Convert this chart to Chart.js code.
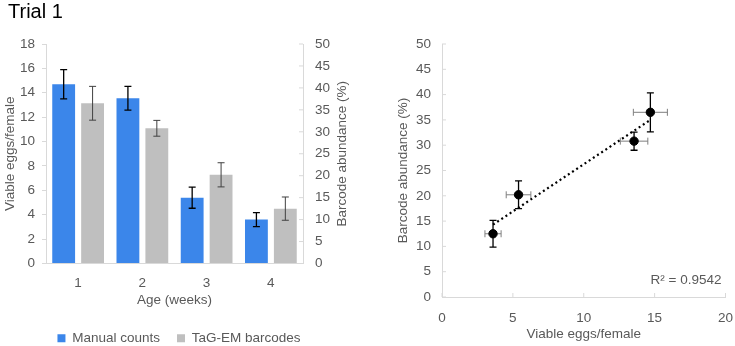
<!DOCTYPE html>
<html>
<head>
<meta charset="utf-8">
<script src="https://cdn.jsdelivr.net/npm/chart.js@4.4.1/dist/chart.umd.min.js"></script>
<style>
  body { margin: 0; background: #fff; width: 735px; height: 346px; position: relative; overflow: hidden; font-family: "Liberation Sans", Arial, sans-serif; }
  #title { position: absolute; left: 8px; top: 0; font-size: 20px; color: #000; }
  #barChart { position: absolute; left: 0; top: 0; }
  #scatChart { position: absolute; left: 370px; top: 0; }
</style>
</head>
<body>
<canvas id="barChart" width="358" height="346"></canvas>
<canvas id="scatChart" width="365" height="346"></canvas>
<div id="title">Trial 1</div>
<script>
// values
const weeks = ['1', '2', '3', '4'];
const manualCounts = [14.7, 13.55, 5.4, 3.6];
const manualErr = [1.2, 0.97, 0.87, 0.57];
const barcodeAbund = [36.5, 30.8, 20.2, 12.5];
const barcodeErr = [3.85, 1.8, 2.75, 2.65];
const trendX = [3.6, 14.7];
const trendY = [14.3, 35.0];
const rSquared = 'R² = 0.9542';

const axisGrey = '#d9d9d9';
const textGrey = '#595959';
const fontStr = '13.5px "Liberation Sans", Arial, sans-serif';

Chart.defaults.font.family = '"Liberation Sans", Arial, sans-serif';
Chart.defaults.font.size = 13.5;
Chart.defaults.color = textGrey;
Chart.defaults.animation = false;

// small tick marks drawn inside the plot (like the original)
function innerTicks(ctx, scale, len) {
  ctx.save();
  ctx.strokeStyle = axisGrey;
  ctx.lineWidth = 1;
  scale.ticks.forEach((t) => {
    const p = scale.getPixelForValue(t.value);
    ctx.beginPath();
    if (scale.isHorizontal()) {
      ctx.moveTo(p, scale.top);
      ctx.lineTo(p, scale.top - len);
    } else if (scale.position === 'left') {
      ctx.moveTo(scale.right, p);
      ctx.lineTo(scale.right + len, p);
    } else {
      ctx.moveTo(scale.left, p);
      ctx.lineTo(scale.left - len, p);
    }
    ctx.stroke();
  });
  ctx.restore();
}

function vBar(ctx, x, y1, y2, cap) {
  ctx.beginPath();
  ctx.moveTo(x, y1); ctx.lineTo(x, y2);
  ctx.moveTo(x - cap, y1); ctx.lineTo(x + cap, y1);
  ctx.moveTo(x - cap, y2); ctx.lineTo(x + cap, y2);
  ctx.stroke();
}
function hBar(ctx, y, x1, x2, cap) {
  ctx.beginPath();
  ctx.moveTo(x1, y); ctx.lineTo(x2, y);
  ctx.moveTo(x1, y - cap); ctx.lineTo(x1, y + cap);
  ctx.moveTo(x2, y - cap); ctx.lineTo(x2, y + cap);
  ctx.stroke();
}

const barErrors = {
  id: 'barErrors',
  afterDatasetsDraw(chart) {
    const ctx = chart.ctx;
    const a = chart.chartArea;
    innerTicks(ctx, chart.scales.y1, 4);
    const errs = [manualErr, barcodeErr];
    const cols = ['#000', '#404040'];
    chart.data.datasets.forEach((ds, d) => {
      const yScale = chart.scales[ds.yAxisID];
      ctx.save();
      ctx.strokeStyle = cols[d];
      ctx.lineWidth = d === 0 ? 1.3 : 1;
      chart.getDatasetMeta(d).data.forEach((el, i) => {
        const v = ds.data[i];
        vBar(ctx, el.x, yScale.getPixelForValue(v + errs[d][i]), yScale.getPixelForValue(v - errs[d][i]), 3.5);
      });
      ctx.restore();
    });
    // right axis title reads bottom-to-top in the original
    ctx.save();
    ctx.translate(342, (a.top + a.bottom) / 2);
    ctx.rotate(-Math.PI / 2);
    ctx.fillStyle = textGrey;
    ctx.font = fontStr;
    ctx.textAlign = 'center';
    ctx.textBaseline = 'middle';
    ctx.fillText('Barcode abundance (%)', 0, 0);
    ctx.restore();
  }
};

const barChart = new Chart(document.getElementById('barChart'), {
  type: 'bar',
  data: {
    labels: weeks,
    datasets: [{
      label: 'Manual counts',
      data: manualCounts,
      backgroundColor: '#3b86ea',
      yAxisID: 'y',
      categoryPercentage: 0.9,
      barPercentage: 0.79
    }, {
      label: 'TaG-EM barcodes',
      data: barcodeAbund,
      backgroundColor: '#bfbfbf',
      yAxisID: 'y1',
      categoryPercentage: 0.9,
      barPercentage: 0.79
    }]
  },
  options: {
    responsive: false,
    layout: { padding: { top: 44, left: 0, right: 0, bottom: -9 } },
    plugins: {
      tooltip: { enabled: false },
      legend: {
        position: 'bottom',
        labels: { boxWidth: 8, boxHeight: 8, padding: 17, color: textGrey }
      }
    },
    scales: {
      x: {
        grid: { display: false, drawTicks: false },
        border: { color: axisGrey },
        ticks: { padding: 12 },
        title: { display: true, text: 'Age (weeks)', padding: { top: 0, bottom: 6 } },
        afterFit(s) { s.height = 51; }
      },
      y: {
        position: 'left',
        min: 0, max: 18,
        ticks: { stepSize: 2, padding: 7 },
        grid: { drawOnChartArea: false, tickLength: 4, color: axisGrey },
        border: { color: axisGrey },
        title: { display: true, text: 'Viable eggs/female', padding: { top: 2, bottom: 2 } },
        afterFit(s) { s.width = 46; }
      },
      y1: {
        position: 'right',
        min: 0, max: 50,
        ticks: { stepSize: 5, padding: 12 },
        grid: { drawOnChartArea: false, drawTicks: false },
        border: { color: axisGrey },
        afterFit(s) { s.width = 55; }
      }
    }
  },
  plugins: [barErrors]
});

const scatExtras = {
  id: 'scatExtras',
  beforeDatasetsDraw(chart) {
    const ctx = chart.ctx;
    const xs = chart.scales.x, ys = chart.scales.y;
    innerTicks(ctx, xs, 4);
    innerTicks(ctx, ys, 4);
    manualCounts.forEach((x, i) => {
      const y = barcodeAbund[i];
      ctx.save();
      ctx.lineWidth = 1;
      ctx.strokeStyle = '#7f7f7f';
      hBar(ctx, ys.getPixelForValue(y), xs.getPixelForValue(x - manualErr[i]), xs.getPixelForValue(x + manualErr[i]), 3.5);
      ctx.strokeStyle = '#000';
      ctx.lineWidth = 1.3;
      vBar(ctx, xs.getPixelForValue(x), ys.getPixelForValue(y + barcodeErr[i]), ys.getPixelForValue(y - barcodeErr[i]), 3.5);
      ctx.restore();
    });
  },
  afterDatasetsDraw(chart) {
    const ctx = chart.ctx;
    const a = chart.chartArea;
    ctx.save();
    ctx.fillStyle = textGrey;
    ctx.font = fontStr;
    ctx.textAlign = 'right';
    ctx.textBaseline = 'middle';
    ctx.fillText(rSquared, a.right - 4, a.bottom - 17);
    ctx.restore();
  }
};

const scatChart = new Chart(document.getElementById('scatChart'), {
  type: 'scatter',
  data: {
    datasets: [{
      type: 'line',
      data: trendX.map((x, i) => ({ x: x, y: trendY[i] })),
      borderColor: '#000',
      borderWidth: 2.2,
      borderDash: [2, 3],
      pointRadius: 0,
      fill: false,
      order: 2
    }, {
      data: manualCounts.map((x, i) => ({ x: x, y: barcodeAbund[i] })),
      backgroundColor: '#000',
      borderColor: '#000',
      pointRadius: 4.2,
      order: 1
    }]
  },
  options: {
    responsive: false,
    layout: { padding: { top: 44, right: 0, left: 0, bottom: 0 } },
    plugins: { legend: { display: false }, tooltip: { enabled: false } },
    scales: {
      x: {
        type: 'linear',
        min: 0, max: 20,
        // label gap comes from the (hidden) tick length so the right edge stays tight
        ticks: { stepSize: 5, padding: 2 },
        grid: { display: false, drawTicks: true, tickLength: 11 },
        border: { color: axisGrey },
        title: { display: true, text: 'Viable eggs/female', padding: { top: 1 } },
        afterFit(s) { s.height = 49; }
      },
      y: {
        min: 0, max: 50,
        ticks: { stepSize: 5, padding: 11 },
        grid: { drawOnChartArea: false, drawTicks: false },
        border: { color: axisGrey },
        title: { display: true, text: 'Barcode abundance (%)', padding: { top: 25, bottom: 2 } },
        afterFit(s) { s.width = 72; }
      }
    }
  },
  plugins: [scatExtras]
});
</script>
</body>
</html>
